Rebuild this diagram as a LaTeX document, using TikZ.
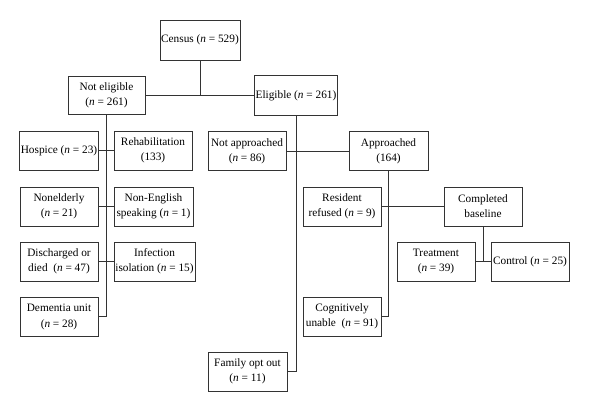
\documentclass[tikz,border=0pt]{standalone}
\usepackage{fontspec}
\setmainfont{Liberation Serif}
\begin{document}
\begin{tikzpicture}[x=1pt,y=-1pt,
  box/.style={draw=black!80,line width=0.9pt,minimum height=39pt,minimum width=78pt,inner sep=1pt,align=center,font=\fontsize{11.3}{15}\selectfont},
  link/.style={draw=black!80,line width=0.9pt}]
\useasboundingbox (0,0) rectangle (600,417);
\newcommand{\nn}{\textit{n}~=~}
\node[box,minimum width=80pt,minimum height=40pt] (census) at (200,40) {Census (\nn529)};
\node[box,minimum width=77pt,minimum height=38pt] (ne) at (106.5,95.5) {Not eligible\\(\nn261)};
\node[box,minimum width=82pt,minimum height=40pt] (el) at (296,95.5) {Eligible (\nn261)};
\node[box] (hospice) at (59,150.5) {Hospice (\nn23)};
\node[box] (rehab) at (153,150.5) {Rehabilitation\\(133)};
\node[box] (na) at (247,151) {Not approached\\(\nn86)};
\node[box,minimum width=79pt] (ap) at (388.5,151) {Approached\\(164)};
\node[box] (nonel) at (59,206.5) {Nonelderly\\(\nn21)};
\node[box,minimum width=79pt] (noneng) at (153.5,206.5) {Non-English\\speaking (\nn1)};
\node[box] (rr) at (342,206.5) {Resident\\refused (\nn9)};
\node[box] (cb) at (483,206.5) {Completed\\baseline};
\node[box] (dis) at (59,261.5) {Discharged or\\died~ (\nn47)};
\node[box,minimum width=81pt] (inf) at (154.5,261.5) {Infection\\isolation (\nn15)};
\node[box] (tr) at (436,261.5) {Treatment\\(\nn39)};
\node[box] (ctl) at (530,261.5) {Control (\nn25)};
\node[box] (dem) at (59,316.5) {Dementia unit\\[1pt](\nn28)};
\node[box] (cog) at (342,316.5) {Cognitively\\unable~ (\nn91)};
\node[box,minimum width=79pt] (fam) at (247.5,371.5) {Family opt out\\(\nn11)};
% connectors
\draw[link] (census.south) -- (census.south |- ne.east);
\draw[link] (ne.east) -- (el.west);
\draw[link] (ne.south) -- (ne.south |- dem.east) -- (dem.east);
\draw[link] (hospice.east) -- (rehab.west);
\draw[link] (nonel.east) -- (noneng.west);
\draw[link] (dis.east) -- (inf.west);
\draw[link] (el.south) -- (el.south |- fam.east) -- (fam.east);
\draw[link] (na.east) -- (ap.west);
\draw[link] (ap.south) -- (ap.south |- cog.east) -- (cog.east);
\draw[link] (rr.east) -- (cb.west);
\draw[link] (cb.south) -- (cb.south |- tr.east);
\draw[link] (tr.east) -- (ctl.west);
\end{tikzpicture}
\end{document}
